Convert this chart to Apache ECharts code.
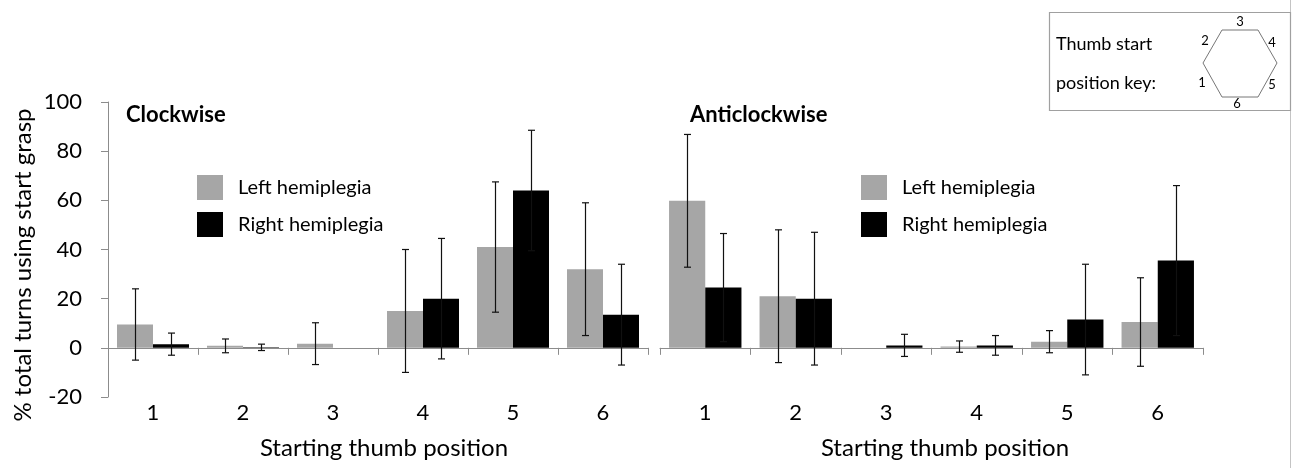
<!DOCTYPE html>
<html>
<head>
<meta charset="utf-8">
<script src="https://cdn.jsdelivr.net/npm/echarts@6/dist/echarts.min.js"></script>
<style>
  html, body { margin: 0; padding: 0; background: #fff; }
  #chart { width: 1297px; height: 468px; }
</style>
</head>
<body>
<div id="chart"></div>
<script>
// ---- data ----
const categories = ['1', '2', '3', '4', '5', '6'];
const seriesNames = ['Left hemiplegia', 'Right hemiplegia'];
// Clockwise
const cwLeft = [9.5, 0.8, 1.7, 15, 41, 32];
const cwLeftErr = [14.5, 2.8, 8.5, 25, 26.5, 27];
const cwRight = [1.5, 0.2, 0, 20, 64, 13.5];
const cwRightErr = [4.5, 1.3, 0, 24.5, 24.5, 20.5];
// Anticlockwise
const acwLeft = [59.8, 21, 0, 0.5, 2.5, 10.5];
const acwLeftErr = [27, 27, 0, 2.3, 4.5, 18];
const acwRight = [24.5, 20, 1, 1, 11.5, 35.5];
const acwRightErr = [22, 27, 4.5, 4, 22.5, 30.5];
const yMin = -20, yMax = 100, yStep = 20;
const panelTitles = ['Clockwise', 'Anticlockwise'];
const xAxisTitle = 'Starting thumb position';
const yAxisTitle = '% total turns using start grasp';
const keyLines = ['Thumb start', 'position key:'];
const keyNumbers = ['1', '2', '3', '4', '5', '6'];

// ---- styles ----
const FONT = 'Lato';
const GRAY = '#a6a6a6';
const BLACK = '#000000';
const AXIS = '#8c8c8c';

const chart = echarts.init(document.getElementById('chart'), null, { renderer: 'canvas' });

function errSeries(xIdx, yIdx, vals, errs, sign) {
  return {
    type: 'custom',
    xAxisIndex: xIdx,
    yAxisIndex: yIdx,
    z: 5,
    silent: true,
    data: categories.map((c, i) => [i, vals[i], errs[i]]),
    encode: { x: 0, y: 1 },
    renderItem: function (params, api) {
      const x = api.value(0), m = api.value(1), e = api.value(2);
      if (!e) return;
      const band = api.size([1, 0])[0];
      const off = sign * band * 0.2;
      const t = api.coord([x, m + e]);
      const b = api.coord([x, m - e]);
      const cx = Math.round(t[0] + off) + 0.5;
      const cap = 3.5;
      const st = { stroke: '#111', lineWidth: 1.2 };
      return {
        type: 'group',
        children: [
          { type: 'line', shape: { x1: cx, y1: t[1], x2: cx, y2: b[1] }, style: st },
          { type: 'line', shape: { x1: cx - cap, y1: t[1], x2: cx + cap, y2: t[1] }, style: st },
          { type: 'line', shape: { x1: cx - cap, y1: b[1], x2: cx + cap, y2: b[1] }, style: st }
        ]
      };
    }
  };
}

function barSeries(name, xIdx, yIdx, vals, color) {
  return {
    name: name,
    type: 'bar',
    xAxisIndex: xIdx,
    yAxisIndex: yIdx,
    data: vals,
    barGap: '0%',
    barCategoryGap: '20%',
    itemStyle: { color: color },
    z: 2
  };
}

const tickAxis = (grid) => ({
  type: 'category', gridIndex: grid, data: categories, position: 'bottom',
  axisLine: { onZero: true, lineStyle: { color: AXIS, width: 1 } },
  axisTick: { show: true, length: 7, lineStyle: { color: AXIS } },
  axisLabel: { show: false }, splitLine: { show: false }
});
const labelAxis = (grid) => ({
  type: 'category', gridIndex: grid, data: categories, position: 'bottom',
  axisLine: { show: false, onZero: false }, axisTick: { show: false },
  axisLabel: { fontFamily: FONT, fontSize: 22, color: '#000', margin: 5 }
});

const legendCfg = (left) => ({
  data: seriesNames, orient: 'vertical', left: left, top: 175, padding: 0,
  itemWidth: 26, itemHeight: 25, itemGap: 12, icon: 'rect', selectedMode: false,
  textStyle: { fontFamily: FONT, fontSize: 20, color: '#000', padding: [0, 0, 0, 10] }
});

const option = {
  backgroundColor: '#fff',
  animation: false,
  grid: [
    { left: 108, width: 540, top: 102, bottom: 71, containLabel: false },
    { left: 660, width: 543, top: 102, bottom: 71, containLabel: false }
  ],
  legend: [legendCfg(197), legendCfg(861)],
  xAxis: [tickAxis(0), labelAxis(0), tickAxis(1), labelAxis(1)],
  yAxis: [
    {
      type: 'value', gridIndex: 0, min: yMin, max: yMax, interval: yStep,
      axisLine: { show: true, lineStyle: { color: AXIS } },
      axisTick: { show: true, length: 7, lineStyle: { color: AXIS } },
      axisLabel: { fontFamily: FONT, fontSize: 22, color: '#000', margin: 26 },
      splitLine: { show: false }
    },
    {
      type: 'value', gridIndex: 1, min: yMin, max: yMax, interval: yStep,
      axisLine: { show: false }, axisTick: { show: false },
      axisLabel: { show: false }, splitLine: { show: false }
    }
  ],
  series: [
    barSeries(seriesNames[0], 0, 0, cwLeft, GRAY),
    barSeries(seriesNames[1], 0, 0, cwRight, BLACK),
    errSeries(0, 0, cwLeft, cwLeftErr, -1),
    errSeries(0, 0, cwRight, cwRightErr, 1),
    barSeries(seriesNames[0], 2, 1, acwLeft, GRAY),
    barSeries(seriesNames[1], 2, 1, acwRight, BLACK),
    errSeries(2, 1, acwLeft, acwLeftErr, -1),
    errSeries(2, 1, acwRight, acwRightErr, 1)
  ],
  graphic: [
    { type: 'line', shape: { x1: 1290.5, y1: 0, x2: 1290.5, y2: 468 }, style: { stroke: '#c4c4c4', lineWidth: 1 } },
    { type: 'text', x: 23, y: 265, rotation: Math.PI / 2, style: { text: yAxisTitle, font: '24px ' + FONT, fill: '#000', align: 'center', verticalAlign: 'middle' } },
    { type: 'text', x: 384, y: 448, style: { text: xAxisTitle, font: '24px ' + FONT, fill: '#000', align: 'center', verticalAlign: 'middle' } },
    { type: 'text', x: 945, y: 448, style: { text: xAxisTitle, font: '24px ' + FONT, fill: '#000', align: 'center', verticalAlign: 'middle' } },
    { type: 'text', x: 126, y: 115, style: { text: panelTitles[0], font: 'bold 22px ' + FONT, fill: '#000', verticalAlign: 'middle' } },
    { type: 'text', x: 690, y: 115, style: { text: panelTitles[1], font: 'bold 22px ' + FONT, fill: '#000', verticalAlign: 'middle' } },
    { type: 'rect', shape: { x: 1049.5, y: 12.5, width: 241, height: 98 }, style: { fill: '#fff', stroke: '#a0a0a0', lineWidth: 1.2 } },
    { type: 'text', x: 1056, y: 44, style: { text: keyLines[0], font: '18px ' + FONT, fill: '#000', verticalAlign: 'middle' } },
    { type: 'text', x: 1056, y: 83, style: { text: keyLines[1], font: '18px ' + FONT, fill: '#000', verticalAlign: 'middle' } },
    { type: 'polygon', shape: { points: [[1222, 30], [1258, 30], [1277, 63], [1258, 97], [1222, 97], [1203, 63]] }, style: { fill: 'none', stroke: '#777', lineWidth: 1 } },
    { type: 'text', x: 1202, y: 83, style: { text: keyNumbers[0], font: '13px ' + FONT, fill: '#000', align: 'center', verticalAlign: 'middle' } },
    { type: 'text', x: 1205, y: 41, style: { text: keyNumbers[1], font: '13px ' + FONT, fill: '#000', align: 'center', verticalAlign: 'middle' } },
    { type: 'text', x: 1240, y: 22, style: { text: keyNumbers[2], font: '13px ' + FONT, fill: '#000', align: 'center', verticalAlign: 'middle' } },
    { type: 'text', x: 1272, y: 43, style: { text: keyNumbers[3], font: '13px ' + FONT, fill: '#000', align: 'center', verticalAlign: 'middle' } },
    { type: 'text', x: 1272, y: 85, style: { text: keyNumbers[4], font: '13px ' + FONT, fill: '#000', align: 'center', verticalAlign: 'middle' } },
    { type: 'text', x: 1237, y: 104, style: { text: keyNumbers[5], font: '13px ' + FONT, fill: '#000', align: 'center', verticalAlign: 'middle' } }
  ]
};
chart.setOption(option);
</script>
</body>
</html>
